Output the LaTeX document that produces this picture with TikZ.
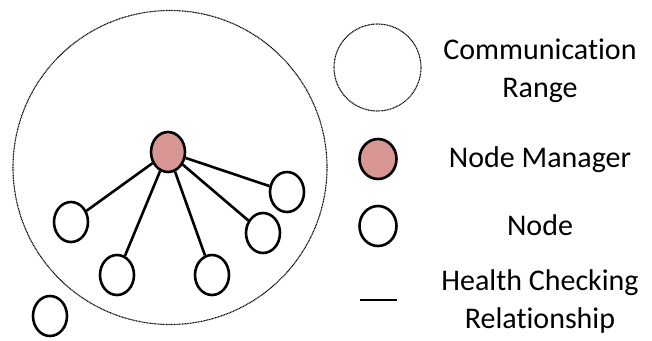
\documentclass[tikz,border=0pt]{standalone}
\usepackage{fontspec}
\setmainfont{Carlito}[Ligatures=NoCommon]
\usepackage{tikz}
\usetikzlibrary{shapes.geometric}
\definecolor{manager-red}{RGB}{215,149,148}
\tikzset{
    range-circle/.style = {draw, dash pattern=on 1pt off 0.6pt, line width=1.1pt, circle, inner sep=0pt},
    node-circle/.style = {draw, line width=2.6pt, ellipse, fill=white, inner sep=0pt, minimum width=34pt, minimum height=40pt},
    manager-circle/.style = {node-circle, fill=manager-red},
    check-line/.style = {line width=2.6pt},
    legend-text/.style = {align=center, font=\fontsize{30}{38}\selectfont},
}
\begin{document}
\begin{tikzpicture}[x=1pt, y=-1pt]
\useasboundingbox (0,0) rectangle (652,340);
% communication range
\node [range-circle, minimum size=314pt] (range) at (170,167.5) {};
% nodes
\node [manager-circle] (manager) at (168,152) {};
\node [node-circle] (n-left) at (71,222) {};
\node [node-circle] (n-botleft) at (117,275) {};
\node [node-circle] (n-botmid) at (212,275) {};
\node [node-circle] (n-rightlow) at (263,233) {};
\node [node-circle] (n-rightup) at (287,192) {};
\node [node-circle] (n-out) at (50,316) {};
\draw [check-line] (manager) -- (n-left);
\draw [check-line] (manager) -- (n-botleft);
\draw [check-line] (manager) -- (n-botmid);
\draw [check-line] (manager) -- (n-rightlow);
\draw [check-line] (manager) -- (n-rightup);
% legend
\node [range-circle, minimum size=87pt] (leg-range) at (377.5,67.5) {};
\node [manager-circle, minimum width=37pt, minimum height=40pt] (leg-manager) at (378,159) {};
\node [node-circle, minimum width=37pt, minimum height=40pt] (leg-node) at (378,226) {};
\coordinate (leg-line-a) at (360,300);
\coordinate (leg-line-b) at (397,300);
\draw [check-line] (leg-line-a) -- (leg-line-b);
\node [legend-text] (txt-range) at (540,71) {Communication\\Range};
\node [legend-text] (txt-manager) at (540,160) {Node Manager};
\node [legend-text] (txt-node) at (540,225) {Node};
\node [legend-text] (txt-check) at (540,301) {Health Checking\\Relationship};
\end{tikzpicture}
\end{document}
